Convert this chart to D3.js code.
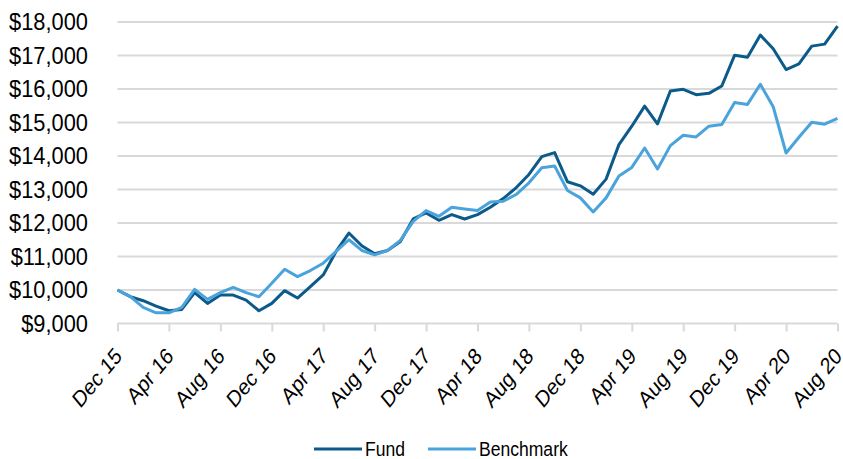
<!DOCTYPE html>
<html>
<head>
<meta charset="utf-8">
<script src="https://cdn.jsdelivr.net/npm/d3@7"></script>
<style>
  body { margin: 0; background: #fff; }
  text { font-family: Arial, "Liberation Sans", sans-serif; fill: #000; }
</style>
</head>
<body>
<div id="chart"></div>
<script>
// monthly growth of $10,000, Dec 15 .. Aug 20
var fund = [10000, 9800, 9680, 9520, 9380, 9420, 9920, 9600, 9850, 9850, 9700, 9380,
            9600, 9980, 9760, 10100, 10450, 11150, 11700, 11320, 11080, 11180, 11450, 12120,
            12300, 12080, 12250, 12120, 12250, 12470, 12730, 13050, 13450, 13980, 14100, 13230,
            13110, 12860, 13310, 14340, 14890, 15490, 14960, 15940, 15990, 15830, 15870, 16090,
            17010, 16950, 17610, 17200, 16580, 16750, 17280, 17340, 17880];
var benchmark = [10000, 9800, 9480, 9320, 9320, 9480, 10020, 9720, 9920, 10080, 9920, 9800,
                 10200, 10620, 10400, 10580, 10800, 11150, 11500, 11180, 11050, 11180, 11480, 12050,
                 12370, 12200, 12470, 12420, 12370, 12630, 12650, 12850, 13200, 13650, 13700, 12970,
                 12750, 12330, 12750, 13400, 13660, 14240, 13610, 14310, 14620, 14570, 14890, 14940,
                 15600, 15540, 16140, 15470, 14090, 14560, 15010, 14950, 15120];
var tickLabels = ["Dec 15", "Apr 16", "Aug 16", "Dec 16", "Apr 17", "Aug 17", "Dec 17", "Apr 18",
                  "Aug 18", "Dec 18", "Apr 19", "Aug 19", "Dec 19", "Apr 20", "Aug 20"];
var yTicks = [9000, 10000, 11000, 12000, 13000, 14000, 15000, 16000, 17000, 18000];
var seriesNames = ["Fund", "Benchmark"];
var colors = ["#0b5a8a", "#4ba3dc"];

var svg = d3.select("#chart").append("svg")
    .attr("width", 843)
    .attr("height", 459);

// month index -> x
var x = d3.scaleLinear()
    .domain([0, fund.length - 1])
    .range([117.5, 837.5]);

var y = d3.scaleLinear()
    .domain([9000, 18000])
    .range([323.5, 22]);

//gridlines
svg.append("g")
    .selectAll("line")
    .data(yTicks.slice(1))
    .enter().append("line")
    .attr("x1", 117.5)
    .attr("x2", 837.5)
    .attr("y1", function(d) { return y(d); })
    .attr("y2", function(d) { return y(d); })
    .style("stroke", "#d9d9d9")
    .style("stroke-width", "2px");

//y labels (slightly narrow, like the original)
svg.append("g")
    .selectAll("text")
    .data(yTicks)
    .enter().append("text")
    .attr("transform", function(d) { return "translate(88," + y(d) + ") scale(0.95,1)"; })
    .attr("dy", "0.36em")
    .attr("text-anchor", "end")
    .style("font-size", "23px")
    .text(function(d) { return "$" + d3.format(",")(d); });

//x axis, tick every 4 months
var tickIdx = tickLabels.map(function(d, i) { return i * 4; });
var xAxis = svg.append("g")
    .attr("transform", "translate(0," + y(9000) + ")")
    .call(d3.axisBottom(x)
        .tickValues(tickIdx)
        .tickSize(8)
        .tickFormat(function(d, i) { return tickLabels[i]; }));

xAxis.select(".domain")
    .attr("d", "M117.5,0H837.5")
    .style("stroke", "#d9d9d9")
    .style("stroke-width", "2px");
xAxis.selectAll(".tick line")
    .style("stroke", "#d9d9d9")
    .style("stroke-width", "2px");
xAxis.selectAll(".tick text")
    .attr("text-anchor", "end")
    .attr("y", 0)
    .attr("dy", 0)
    .attr("transform", "translate(5,34) scale(0.83,1) rotate(-45)")
    .style("font-size", "23px")
    .style("font-family", "Arial, 'Liberation Sans', sans-serif")
    .style("fill", "#000");

//lines
var line = d3.line()
    .x(function(d, i) { return x(i); })
    .y(function(d) { return y(d); });

[fund, benchmark].forEach(function(s, k) {
    svg.append("path")
        .datum(s)
        .attr("d", line)
        .style("fill", "none")
        .style("stroke", colors[k])
        .style("stroke-width", "3px")
        .style("stroke-linejoin", "round");
});

//legend
var legend = svg.append("g")
    .attr("transform", "translate(0,449)");
var legendX = [314, 428];
seriesNames.forEach(function(name, k) {
    legend.append("line")
        .attr("x1", legendX[k])
        .attr("x2", legendX[k] + 48)
        .style("stroke", colors[k])
        .style("stroke-width", "3px");
    legend.append("text")
        .attr("transform", "translate(" + (legendX[k] + 51) + ",0) scale(0.9,1)")
        .attr("dy", "0.36em")
        .style("font-size", "19.5px")
        .text(name);
});
</script>
</body>
</html>
